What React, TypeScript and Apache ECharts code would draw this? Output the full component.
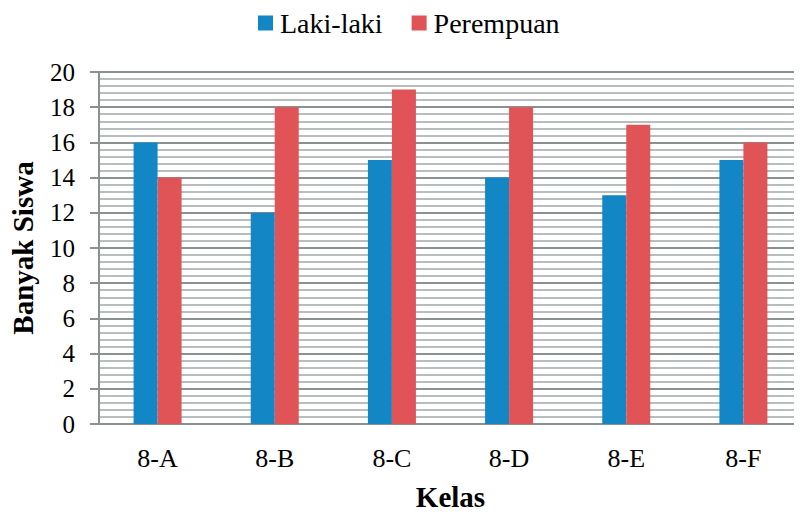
import React, { useEffect, useRef } from "react";
import * as echarts from "echarts";

const categories = ["8-A", "8-B", "8-C", "8-D", "8-E", "8-F"];
const lakiLaki = [16, 12, 15, 14, 13, 15];
const perempuan = [14, 18, 19, 18, 17, 16];
const seriesNames = ["Laki-laki", "Perempuan"];

const FONT = "Liberation Serif";

export default function App() {
  const ref = useRef<HTMLDivElement>(null);
  useEffect(() => {
    if (!ref.current) return;
    const chart = echarts.init(ref.current, undefined, { renderer: "svg" });
    chart.setOption({
      animation: false,
      textStyle: { fontFamily: FONT },
      legend: {
        top: 4,
        left: 253,
        icon: "rect",
        itemWidth: 15,
        itemHeight: 15,
        itemGap: 29,
        textStyle: { fontFamily: FONT, fontSize: 28, color: "#000", padding: [0, 0, 0, 2] },
        data: seriesNames,
      },
      grid: { left: 97, right: -10, top: 72, bottom: 88, containLabel: false },
      xAxis: {
        type: "category",
        data: categories,
        name: "Kelas",
        nameLocation: "middle",
        nameGap: 58,
        nameTextStyle: { fontFamily: FONT, fontSize: 29, fontWeight: "bold", color: "#000" },
        axisLine: { lineStyle: { color: "#8a9191", width: 2 } },
        axisTick: { show: false },
        axisLabel: { fontFamily: FONT, fontSize: 26, color: "#000", margin: 21 },
      },
      yAxis: {
        type: "value",
        min: 0,
        max: 20,
        interval: 2,
        name: "Banyak Siswa",
        nameLocation: "middle",
        nameGap: 62,
        nameTextStyle: { fontFamily: FONT, fontSize: 29, fontWeight: "bold", color: "#000" },
        axisLine: { show: true, lineStyle: { color: "#8a9191", width: 2 } },
        axisTick: { show: true, length: 9, lineStyle: { color: "#8a9191", width: 2 } },
        axisLabel: { fontFamily: FONT, fontSize: 25, color: "#000", margin: 24 },
        splitLine: { show: true, lineStyle: { color: "#8a9191", width: 2 } },
        minorTick: { show: false, splitNumber: 5 },
        minorSplitLine: { show: true, lineStyle: { color: "#b8bebe", width: 2 } },
      },
      series: [
        {
          name: seriesNames[0],
          type: "bar",
          data: lakiLaki,
          barWidth: 24,
          barGap: "0%",
          itemStyle: { color: "#1387c5" },
        },
        {
          name: seriesNames[1],
          type: "bar",
          data: perempuan,
          barWidth: 24,
          barGap: "0%",
          itemStyle: { color: "#e05457" },
        },
      ],
    });
    return () => chart.dispose();
  }, []);
  return <div ref={ref} style={{ width: 802, height: 516, margin: -8 }} />;
}
